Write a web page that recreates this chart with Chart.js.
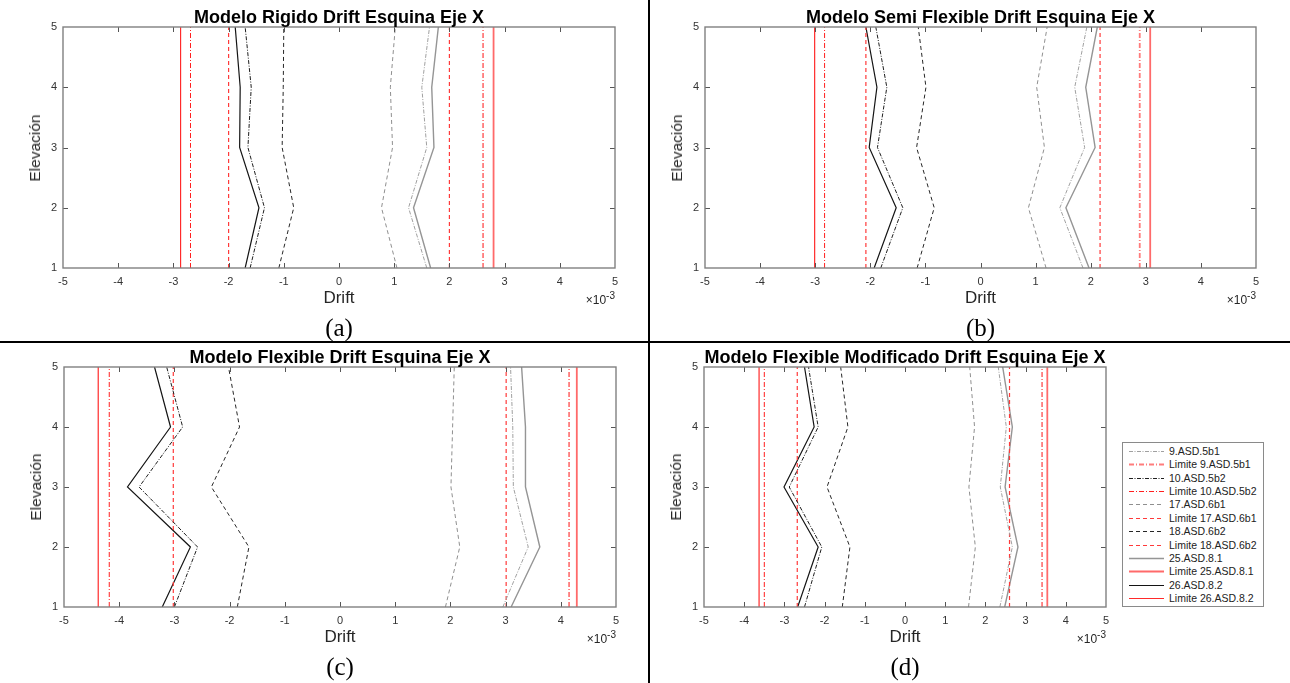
<!DOCTYPE html>
<html lang="es">
<head>
<meta charset="utf-8">
<title>Drift Esquina Eje X</title>
<script src="https://cdn.jsdelivr.net/npm/chart.js@4.4.1/dist/chart.umd.min.js"></script>
<style>
  html, body { margin: 0; padding: 0; background: #fff; }
  #page { position: relative; width: 1290px; height: 683px; overflow: hidden; background: #fff; }
  canvas { position: absolute; }
  .ttl { position: absolute; font: bold 18px "Liberation Sans", Arial, sans-serif; color: #000; white-space: nowrap; transform: translate(-50%, -50%); }
  .xl { position: absolute; font: 17px "Liberation Sans", Arial, sans-serif; color: #262626; transform: translate(-50%, -50%); }
  .yl { position: absolute; font: 15.5px "Liberation Sans", Arial, sans-serif; color: #262626; white-space: nowrap; transform: translate(-50%, -50%) rotate(-90deg); }
  .mul { position: absolute; font: 12px "Liberation Sans", Arial, sans-serif; color: #262626; white-space: nowrap; transform: translate(-100%, -50%); }
  .mul sup { font-size: 10px; vertical-align: 5px; }
  .cap { position: absolute; font: 25px "Liberation Serif", "Times New Roman", serif; color: #000; transform: translate(-50%, -50%); }
  .vline { position: absolute; left: 648px; top: 0; width: 2px; height: 683px; background: #000; }
  .hline { position: absolute; left: 0; top: 341px; width: 1290px; height: 2px; background: #000; }
  #legend { position: absolute; left: 1122px; top: 442px; width: 140px; height: 163px; border: 1px solid #8a8a8a; background: #fff; }
  #legend .row { position: absolute; left: 0; height: 13px; width: 140px; }
  #legend svg { position: absolute; left: 5px; top: 0; }
  #legend span { position: absolute; left: 46px; top: 0; font: 10.5px "Liberation Sans", Arial, sans-serif; color: #222; line-height: 13px; white-space: nowrap; }
</style>
</head>
<body>
<div id="page">
  <div class="vline"></div>
  <div class="hline"></div>
  <div id="legend"></div>
</div>
<script>
// Elevation levels (storeys) shared by every profile
const ELEVATION = [1, 2, 3, 4, 5];
const X_TICKS = [-5, -4, -3, -2, -1, 0, 1, 2, 3, 4, 5];
const Y_TICKS = [1, 2, 3, 4, 5];

// Drift values (x10^-3), listed from elevation 1 to 5
// Modelo Rigido
const rigido9  = [1.59, 1.26, 1.59, 1.50, 1.64];
const rigido10 = [-1.61, -1.35, -1.65, -1.59, -1.70];
const rigido17 = [1.05, 0.77, 0.97, 0.93, 1.02];
const rigido18 = [-1.09, -0.82, -1.03, -1.01, -1.00];
const rigido25 = [1.66, 1.35, 1.72, 1.68, 1.80];
const rigido26 = [-1.70, -1.45, -1.80, -1.79, -1.88];
const rigidoLimits = [2.61, -2.69, 2.00, -2.00, 2.80, -2.87];

// Modelo Semi Flexible
const semi9  = [1.86, 1.44, 1.89, 1.71, 1.93];
const semi10 = [-1.81, -1.41, -1.87, -1.70, -1.90];
const semi17 = [1.19, 0.87, 1.16, 1.02, 1.21];
const semi18 = [-1.15, -0.84, -1.16, -0.99, -1.13];
const semi25 = [1.97, 1.55, 2.08, 1.91, 2.12];
const semi26 = [-1.93, -1.53, -2.02, -1.88, -2.08];
const semiLimits = [2.89, -2.83, 2.17, -2.08, 3.08, -3.01];

// Modelo Flexible
const flex9  = [2.95, 3.41, 3.14, 3.13, 3.09];
const flex10 = [-3.00, -2.58, -3.64, -2.85, -3.14];
const flex17 = [1.91, 2.17, 2.01, 2.04, 2.07];
const flex18 = [-1.86, -1.65, -2.33, -1.82, -2.02];
const flex25 = [3.10, 3.62, 3.36, 3.36, 3.29];
const flex26 = [-3.22, -2.71, -3.85, -3.07, -3.36];
const flexLimits = [4.15, -4.18, 3.01, -3.02, 4.29, -4.38];

// Modelo Flexible Modificado
const mod9  = [2.36, 2.67, 2.37, 2.52, 2.32];
const mod10 = [-2.50, -2.07, -2.88, -2.16, -2.40];
const mod17 = [1.58, 1.75, 1.59, 1.73, 1.61];
const mod18 = [-1.56, -1.37, -1.94, -1.42, -1.60];
const mod25 = [2.48, 2.81, 2.49, 2.67, 2.43];
const mod26 = [-2.67, -2.16, -3.01, -2.26, -2.50];
const modLimits = [3.41, -3.50, 2.60, -2.68, 3.54, -3.63];

// Combination names, in the order of the limit arrays above
const COMBOS = ['9.ASD.5b1', '10.ASD.5b2', '17.ASD.6b1', '18.ASD.6b2', '25.ASD.8.1', '26.ASD.8.2'];

// Line styles: profile style and limit style per combination
const DASHDOT = [4, 1.5, 1, 1.5];
const DASHDOT_R = [5, 2, 1, 2];
const DASH = [4, 3];
const STYLE = {
  '9.ASD.5b1':  { line: { color: '#a0a0a0', width: 1,   dash: DASHDOT }, limit: { color: '#ff7c7c', width: 1.8, dash: DASHDOT_R } },
  '10.ASD.5b2': { line: { color: '#1e1e1e', width: 1,   dash: DASHDOT }, limit: { color: '#ff1f1f', width: 1,   dash: DASHDOT_R } },
  '17.ASD.6b1': { line: { color: '#8f8f8f', width: 1,   dash: DASH },    limit: { color: '#ff3a3a', width: 1.2, dash: DASH } },
  '18.ASD.6b2': { line: { color: '#262626', width: 1,   dash: DASH },    limit: { color: '#ff3a3a', width: 1.2, dash: DASH } },
  '25.ASD.8.1': { line: { color: '#959595', width: 1.4, dash: [] },      limit: { color: '#ff6a6a', width: 1.8, dash: [] } },
  '26.ASD.8.2': { line: { color: '#141414', width: 1.2, dash: [] },      limit: { color: '#ff2a2a', width: 1.2, dash: [] } }
};

const PANELS = [
  { title: 'Modelo Rigido Drift Esquina Eje X', cap: '(a)', area: [63, 27, 615, 268],
    series: [rigido9, rigido10, rigido17, rigido18, rigido25, rigido26], limits: rigidoLimits },
  { title: 'Modelo Semi Flexible Drift Esquina Eje X', cap: '(b)', area: [705, 27, 1256, 268],
    series: [semi9, semi10, semi17, semi18, semi25, semi26], limits: semiLimits },
  { title: 'Modelo Flexible Drift Esquina Eje X', cap: '(c)', area: [64, 367, 616, 607],
    series: [flex9, flex10, flex17, flex18, flex25, flex26], limits: flexLimits },
  { title: 'Modelo Flexible Modificado Drift Esquina Eje X', cap: '(d)', area: [704, 367, 1106, 607],
    series: [mod9, mod10, mod17, mod18, mod25, mod26], limits: modLimits }
];

const FONT = '"Liberation Sans", Arial, sans-serif';
const Y_AXIS_W = 50, X_AXIS_H = 30, PAD_T = 9, PAD_R = 12, TICK_LEN = 5;

// Box around the axes with inward ticks on all four sides
const framePlugin = {
  id: 'frame',
  afterDraw(chart) {
    const { ctx, chartArea: a, scales } = chart;
    ctx.save();
    ctx.strokeStyle = '#555';
    ctx.lineWidth = 1;
    ctx.beginPath();
    scales.x.ticks.forEach(t => {
      const px = Math.round(scales.x.getPixelForValue(t.value)) + 0.5;
      if (px <= a.left + 1 || px >= a.right - 1) return;
      ctx.moveTo(px, a.bottom); ctx.lineTo(px, a.bottom - TICK_LEN);
      ctx.moveTo(px, a.top); ctx.lineTo(px, a.top + TICK_LEN);
    });
    scales.y.ticks.forEach(t => {
      const py = Math.round(scales.y.getPixelForValue(t.value)) + 0.5;
      if (py <= a.top + 1 || py >= a.bottom - 1) return;
      ctx.moveTo(a.left, py); ctx.lineTo(a.left + TICK_LEN, py);
      ctx.moveTo(a.right, py); ctx.lineTo(a.right - TICK_LEN, py);
    });
    ctx.stroke();
    ctx.strokeStyle = '#808080';
    ctx.lineWidth = 1.4;
    ctx.strokeRect(a.left, a.top, a.right - a.left, a.bottom - a.top);
    ctx.restore();
  }
};

function lineDataset(label, xs, st) {
  return {
    label,
    data: ELEVATION.map((e, i) => ({ x: xs[i], y: e })),
    showLine: true, pointRadius: 0, fill: false, tension: 0,
    borderColor: st.color, borderWidth: st.width, borderDash: st.dash
  };
}

const page = document.getElementById('page');

function addText(cls, html, x, y) {
  const d = document.createElement('div');
  d.className = cls;
  d.innerHTML = html;
  d.style.left = x + 'px';
  d.style.top = y + 'px';
  page.appendChild(d);
}

PANELS.forEach(p => {
  const [L, T, R, B] = p.area;
  const cv = document.createElement('canvas');
  const w = (R - L) + Y_AXIS_W + PAD_R;
  const h = (B - T) + PAD_T + X_AXIS_H;
  cv.width = w; cv.height = h;
  cv.style.left = (L - Y_AXIS_W) + 'px';
  cv.style.top = (T - PAD_T) + 'px';
  cv.style.width = w + 'px'; cv.style.height = h + 'px';
  page.appendChild(cv);

  const datasets = [];
  COMBOS.forEach((name, i) => {
    datasets.push(lineDataset(name, p.series[i], STYLE[name].line));
    const v = p.limits[i];
    datasets.push(lineDataset('Limite ' + name, ELEVATION.map(() => v), STYLE[name].limit));
  });

  new Chart(cv, {
    type: 'scatter',
    data: { datasets },
    options: {
      responsive: false, animation: false, devicePixelRatio: 1,
      layout: { padding: { left: 0, top: PAD_T, right: PAD_R, bottom: 0 } },
      plugins: { legend: { display: false }, tooltip: { enabled: false }, title: { display: false } },
      scales: {
        x: {
          type: 'linear', min: X_TICKS[0], max: X_TICKS[X_TICKS.length - 1],
          afterBuildTicks: s => { s.ticks = X_TICKS.map(v => ({ value: v })); },
          grid: { display: false, drawTicks: false }, border: { display: false },
          ticks: { font: { family: FONT, size: 11 }, color: '#333', padding: 7, maxRotation: 0, autoSkip: false },
          afterFit: s => { s.height = X_AXIS_H; s.paddingLeft = 0; s.paddingRight = 0; }
        },
        y: {
          type: 'linear', min: Y_TICKS[0], max: Y_TICKS[Y_TICKS.length - 1],
          afterBuildTicks: s => { s.ticks = Y_TICKS.map(v => ({ value: v })); },
          grid: { display: false, drawTicks: false }, border: { display: false },
          ticks: { font: { family: FONT, size: 11 }, color: '#333', padding: 6, autoSkip: false },
          afterFit: s => { s.width = Y_AXIS_W; s.paddingTop = 0; s.paddingBottom = 0; }
        }
      }
    },
    plugins: [framePlugin]
  });

  const cx = (L + R) / 2;
  addText('ttl', p.title, cx, T - 10);
  addText('xl', 'Drift', cx, B + 30);
  addText('yl', 'Elevación', L - 28, (T + B) / 2);
  addText('mul', '&times;10<sup>-3</sup>', R, B + 30);
  addText('cap', p.cap, cx, B + 60);
});

// Legend built from the same style table
const legend = document.getElementById('legend');
const entries = [];
COMBOS.forEach(name => {
  entries.push({ label: name, st: STYLE[name].line });
  entries.push({ label: 'Limite ' + name, st: STYLE[name].limit });
});
entries.forEach((e, i) => {
  const row = document.createElement('div');
  row.className = 'row';
  row.style.top = (2 + i * 13.36) + 'px';
  const dash = e.st.dash.length ? e.st.dash.join(',') : 'none';
  row.innerHTML = '<svg width="36" height="13"><line x1="1" y1="6.5" x2="36" y2="6.5" stroke="' + e.st.color +
    '" stroke-width="' + e.st.width + '" stroke-dasharray="' + dash + '"/></svg><span>' + e.label + '</span>';
  legend.appendChild(row);
});
</script>
</body>
</html>
